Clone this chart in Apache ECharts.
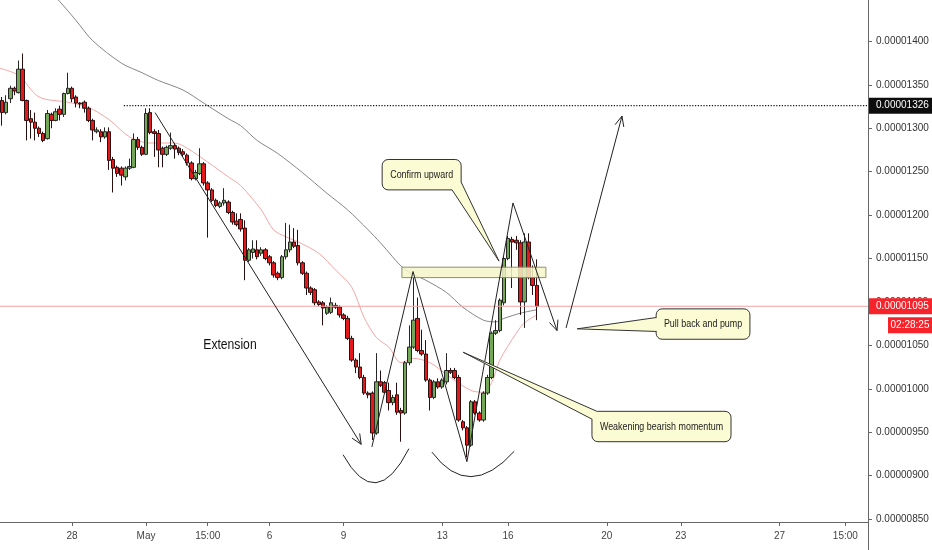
<!DOCTYPE html>
<html><head><meta charset="utf-8">
<script src="https://cdn.jsdelivr.net/npm/echarts@6/dist/echarts.min.js"></script>
<style>html,body{margin:0;padding:0;background:#fff}#c{width:932px;height:550px}</style>
</head><body><div id="c"></div>
<script>
// 4h candles; prices in units of 1e-8
const open = [1332,1318,1334,1346,1341,1368,1332,1311,1307,1300,
1294,1288,1316,1309,1322,1316,1340,1346,1336,1329,
1330,1323,1309,1296,1296,1290,1296,1264,1255,1254,
1244,1254,1255,1287,1278,1270,1318,1296,1294,1277,
1270,1277,1280,1277,1273,1269,1260,1242,1248,1259,
1237,1229,1217,1210,1214,1215,1203,1193,1195,1185,
1148,1157,1160,1156,1160,1152,1145,1133,1128,1152,
1160,1169,1165,1145,1133,1116,1114,1100,1099,1087,
1088,1096,1094,1085,1081,1058,1033,1025,1013,995,
995,949,1008,1007,998,984,993,975,972,1030,
1048,1081,1044,1040,1010,990,1008,1002,1008,1021,
1021,1013,962,955,935,985,972,964,995,1013,
1064,1067,1099,1150,1172,1171,1168,1100,1169,1128,
1119];
const close = [1318,1330,1346,1343,1368,1332,1309,1307,1300,1294,
1286,1317,1309,1319,1316,1340,1346,1334,1329,1328,
1323,1309,1298,1298,1290,1296,1263,1254,1248,1246,
1254,1256,1287,1278,1270,1317,1295,1294,1275,1270,
1278,1280,1276,1272,1270,1260,1242,1249,1259,1237,
1229,1217,1211,1214,1217,1203,1192,1189,1184,1148,
1160,1161,1152,1160,1150,1145,1131,1128,1152,1160,
1169,1164,1145,1133,1116,1111,1099,1097,1093,1094,
1099,1094,1085,1081,1058,1033,1025,1013,995,993,
949,1008,1004,996,984,990,973,972,1030,1048,
1079,1044,1040,1010,990,1008,1002,1010,1021,1019,
1013,964,955,935,985,972,964,995,1013,1064,
1067,1102,1150,1173,1169,1168,1100,1169,1128,1119,
1095];
const low = [1303,1316,1329,1338,1340,1331,1286,1288,1286,1290,
1284,1287,1300,1308,1309,1313,1339,1330,1324,1323,
1318,1307,1286,1294,1284,1288,1252,1226,1244,1234,
1240,1252,1254,1275,1268,1269,1293,1267,1255,1255,
1268,1275,1265,1269,1267,1257,1240,1240,1246,1234,
1174,1215,1209,1208,1211,1201,1189,1187,1181,1125,
1146,1150,1149,1153,1148,1142,1128,1125,1126,1149,
1157,1162,1142,1131,1108,1108,1096,1095,1073,1085,
1086,1092,1082,1079,1056,1031,1018,1011,993,989,
941,947,1002,994,975,981,970,939,970,1027,
1046,1042,1038,1008,975,988,1000,1000,1005,1017,
1011,962,952,921,933,970,962,962,993,1011,
1062,1065,1096,1148,1116,1160,1085,1070,1126,1108,
1079];
const high = [1336,1338,1349,1348,1378,1386,1333,1321,1318,1302,
1296,1321,1318,1323,1326,1341,1364,1348,1338,1330,
1332,1325,1311,1301,1299,1301,1301,1267,1257,1256,
1256,1265,1294,1290,1280,1323,1323,1299,1298,1279,
1280,1295,1283,1279,1276,1271,1262,1252,1277,1261,
1239,1231,1219,1216,1231,1217,1205,1202,1202,1194,
1162,1171,1171,1163,1162,1154,1147,1135,1154,1191,
1189,1185,1183,1147,1135,1118,1116,1102,1101,1096,
1105,1099,1096,1087,1084,1061,1035,1041,1016,997,
997,1041,1021,1009,1007,993,1007,978,1032,1073,
1128,1105,1068,1056,1012,1010,1012,1012,1041,1024,
1024,1016,964,957,987,987,974,997,1016,1066,
1079,1104,1153,1176,1175,1176,1171,1179,1179,1142,
1149];
// moving averages: [candle index, price]
const maFast = [[-0.5,1369],[4,1361],[9,1336],[16,1330],[21,1324],[26,1310],[31,1290],[36,1283],[42,1283],[45,1277],[50,1261],[55,1244],[58,1234],[63,1206],[66,1183],[69,1175],[72,1169],[77,1156],[81,1137],[85,1117],[88,1082],[91,1059],[94,1048],[97,1030],[100,1035],[104,1030],[109,1013],[114,998],[117,996],[119,1007],[121,1033],[125,1064],[127,1076],[130,1085]];
const maSlow = [[9,1470],[14,1446],[18,1424],[22,1401],[29,1375],[34,1364],[38,1355],[44,1344],[49,1329],[55,1311],[58,1303],[62,1286],[67,1271],[73,1249],[79,1225],[84,1206],[89,1183],[92,1168],[98,1137],[103,1125],[108,1111],[112,1094],[117,1079],[120,1077],[122,1081],[126,1087],[130,1091]];
const tickDates = ['04-28 00:00','05-01 00:00','05-03 12:00','05-06 00:00','05-09 00:00','05-13 00:00','05-16 00:00','05-20 00:00','05-23 00:00','05-27 00:00','05-29 16:00'];
const tickTexts = ['28','May','15:00','6','9','13','16','20','23','27','15:00'];
const resistanceLevel = 1326;
const lastPrice = 1095;
const countdown = '02:28:25';

const slotCount = 211;
const categories = [];
for (let i = 0; i < slotCount; i++) {
  const t = new Date(Date.UTC(2019,3,25,4) + (i*4 + (i > 115 ? 8 : 0)) * 3600e3);
  categories.push(String(t.getUTCMonth()+1).padStart(2,'0') + '-' + String(t.getUTCDate()).padStart(2,'0') + ' ' + String(t.getUTCHours()).padStart(2,'0') + ':00');
}
const tickMap = {};
tickDates.forEach((d, k) => tickMap[d] = tickTexts[k]);
const ohlc = open.map((o, i) => [o, close[i], low[i], high[i]]);
const fmtPrice = v => '0.0000' + String(Math.round(v)).padStart(4, '0');

const FONT = "'Liberation Sans',Arial,sans-serif";
const INK = '#222';
const NOTE_FILL = '#fbfbd4';
const NARROW = 0.81;

// drawing annotations in (candle index, price) coordinates
const notes = {
  downArrow: [[37.2,1318],[87.3,936]],
  zigzag: [[89.9,933],[99.9,1135],[113.0,916],[124.2,1214],[134.9,1067]],
  upArrow: [[137.1,1070],[150.7,1314]],
  zone: [[97.2,1140],[132.2,1128]],
  arcs: [[[82.9,924],[90.9,856],[98.9,931]], [[104.5,927],[113.5,870],[124.5,928]]],
  callouts: [
    {box:[[92.4,1264],[111.6,1229]], tip:[120.8,1147], base:[[109.4,1229],[111.6,1238]], text:'Confirm upward'},
    {box:[[159.0,1092],[181.8,1057]], tip:[139.8,1069], base:[[159.0,1082],[159.0,1066]], text:'Pull back and pump'},
    {box:[[143.4,974],[177.2,939]], tip:[112.1,1042], base:[[144.6,974],[143.4,965]], text:'Weakening bearish momentum'}
  ],
  label: {at:[55.4,1050], text:'Extension'},
  resistanceStart: 29.6
};

function renderNotes(params, api) {
  const cs = params.coordSys;
  const P = p => api.coord(p);
  const xR = cs.x + cs.width;
  const ch = [];
  const ln = (a, b, st) => ({type:'line', shape:{x1:a[0],y1:a[1],x2:b[0],y2:b[1]}, style:Object.assign({stroke:INK, lineWidth:1}, st || {})});
  const head = (a, b) => {
    const ang = Math.atan2(b[1]-a[1], b[0]-a[0]), L = 11, w = 0.42;
    return {type:'polyline', shape:{points:[[b[0]-L*Math.cos(ang-w), b[1]-L*Math.sin(ang-w)], b, [b[0]-L*Math.cos(ang+w), b[1]-L*Math.sin(ang+w)]]}, style:{stroke:INK, lineWidth:1, fill:null}};
  };
  const txt = (x, y, text, size, fill, align) => ({type:'text', x, y, scaleX:NARROW, scaleY:1,
    style:{text, fill, font:size + 'px ' + FONT, align:align || 'center', verticalAlign:'middle'}});
  // last price line
  const yLast = P([0, lastPrice])[1];
  ch.push(ln([cs.x, yLast], [xR, yLast], {stroke:'#f4a3a3'}));
  // resistance dotted line
  const yRes = P([0, resistanceLevel])[1];
  ch.push(ln([P([notes.resistanceStart, resistanceLevel])[0], yRes], [xR, yRes], {stroke:'#111', lineDash:[1.2,1.6], lineWidth:1.2}));
  // zone
  const z0 = P(notes.zone[0]), z1 = P(notes.zone[1]);
  ch.push({type:'rect', shape:{x:z0[0], y:z0[1], width:z1[0]-z0[0], height:z1[1]-z0[1]}, style:{fill:'rgba(245,245,200,0.85)', stroke:'#8f8f6a', lineWidth:1}});
  // arrows
  const da = notes.downArrow.map(P);
  ch.push(ln(da[0], da[1]), head(da[0], da[1]));
  const zz = notes.zigzag.map(P);
  ch.push({type:'polyline', shape:{points:zz}, style:{stroke:INK, lineWidth:1, fill:null}});
  ch.push(head(zz[zz.length-2], zz[zz.length-1]));
  const ua = notes.upArrow.map(P);
  ch.push(ln(ua[0], ua[1]), head(ua[0], ua[1]));
  // arcs
  notes.arcs.forEach(a => {
    const p = a.map(P);
    ch.push({type:'bezierCurve', shape:{x1:p[0][0], y1:p[0][1], cpx1:p[1][0], cpy1:p[1][1], x2:p[2][0], y2:p[2][1]}, style:{stroke:INK, lineWidth:1, fill:null}});
  });
  // callouts
  notes.callouts.forEach(c => {
    const tl = P(c.box[0]), br = P(c.box[1]);
    const x = tl[0], y = tl[1], w = br[0]-x, h = br[1]-y;
    const t = P(c.tip), a = P(c.base[0]), b = P(c.base[1]);
    const cx = x + w/2, cy = y + h/2;
    const mx = (a[0]+b[0])/2, my = (a[1]+b[1])/2;
    const d = Math.hypot(cx-mx, cy-my) || 1;
    const inner = [mx + (cx-mx)/d*5, my + (cy-my)/d*5];
    ch.push({type:'rect', shape:{x, y, width:w, height:h, r:6}, style:{fill:NOTE_FILL, stroke:'#333', lineWidth:1}});
    ch.push({type:'polygon', shape:{points:[a, t, b, inner]}, style:{fill:NOTE_FILL}});
    ch.push({type:'polyline', shape:{points:[a, t, b]}, style:{stroke:'#333', lineWidth:1, fill:null}});
    ch.push(txt(cx, cy, c.text, 11, '#222'));
  });
  const lp = P(notes.label.at);
  ch.push(txt(lp[0], lp[1], notes.label.text, 15, '#111'));
  // price scale boxes
  const W = 932;
  ch.push({type:'rect', shape:{x:xR+1, y:yRes-8, width:W-xR-1, height:16}, style:{fill:'#0d0d0d'}});
  ch.push({type:'text', x:xR+8, y:yRes, style:{text:fmtPrice(resistanceLevel), fill:'#fff', font:'10px ' + FONT, align:'left', verticalAlign:'middle'}});
  ch.push({type:'rect', shape:{x:xR+1, y:yLast-8, width:W-xR-1, height:16}, style:{fill:'#f6232b'}});
  ch.push({type:'text', x:xR+8, y:yLast, style:{text:fmtPrice(lastPrice), fill:'#fff', font:'10px ' + FONT, align:'left', verticalAlign:'middle'}});
  ch.push({type:'rect', shape:{x:xR+20, y:yLast+11, width:W-xR-20, height:16}, style:{fill:'#f6232b'}});
  ch.push({type:'text', x:xR+20+(W-xR-20)/2, y:yLast+19, style:{text:countdown, fill:'#fff', font:'10px ' + FONT, align:'center', verticalAlign:'middle'}});
  // price scale border extension
  ch.push(ln([xR+0.5, cs.y+cs.height], [xR+0.5, 550], {stroke:'#666'}));
  return {type:'group', children:ch};
}

const chart = echarts.init(document.getElementById('c'), null, {renderer:'canvas'});
chart.setOption({
  animation: false,
  backgroundColor: '#fff',
  grid: {left:0, right:64, top:-2, bottom:31, outerBoundsMode:'none', containLabel:false},
  xAxis: [{
    type:'category', data:categories, boundaryGap:true, offset:3,
    axisLine:{show:true, onZero:false, lineStyle:{color:'#666'}},
    axisTick:{show:true, length:4, alignWithLabel:true, interval:(i, v) => v in tickMap, lineStyle:{color:'#666'}},
    axisLabel:{interval:(i, v) => v in tickMap, formatter:v => tickMap[v] || '', color:'#444', fontSize:10, fontFamily:FONT, margin:9},
    splitLine:{show:false}
  }, {
    type:'value', min:-0.5, max:slotCount-0.5, show:false
  }],
  yAxis: {
    type:'value', position:'right', min:850, max:1450, interval:50,
    axisLine:{show:true, onZero:false, lineStyle:{color:'#666'}},
    axisTick:{show:true, length:4, lineStyle:{color:'#666'}},
    axisLabel:{formatter:fmtPrice, color:'#333', fontSize:10, fontFamily:FONT, margin:8, showMaxLabel:false},
    splitLine:{show:false}
  },
  series: [{
    type:'line', xAxisIndex:1, data:maSlow, smooth:0.3, symbol:'none', clip:true,
    lineStyle:{color:'#858585', width:1}, z:1
  }, {
    type:'line', xAxisIndex:1, data:maFast, smooth:0.3, symbol:'none', clip:true,
    lineStyle:{color:'#f3a6a6', width:1}, z:1
  }, {
    type:'candlestick', data:ohlc, barWidth:4, z:2,
    itemStyle:{color:'#74a858', color0:'#e3191c', borderColor:'#262626', borderColor0:'#2a1010', borderWidth:1}
  }, {
    type:'custom', xAxisIndex:1, data:[[0, 1000]], encode:{x:0, y:1}, renderItem:renderNotes, silent:true, clip:false, z:5
  }]
});
</script></body></html>
